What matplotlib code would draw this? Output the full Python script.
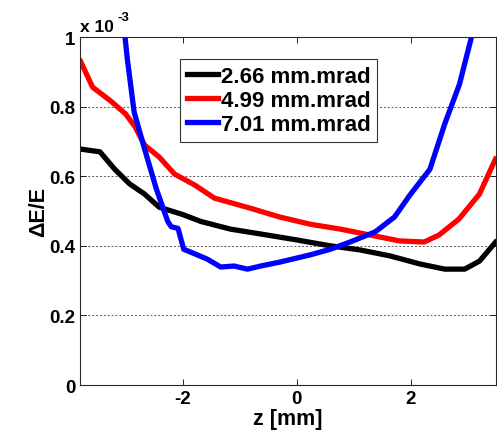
import numpy as np
import matplotlib
matplotlib.use("Agg")
import matplotlib.pyplot as plt

plt.rcParams['font.family'] = ['Liberation Sans', 'DejaVu Sans']
plt.rcParams['font.weight'] = 'bold'

# values, y in units of 1e-3
labels = ["2.66 mm.mrad", "4.99 mm.mrad", "7.01 mm.mrad"]
colors = ["black", "red", "blue"]

z_black = [-3.79, -3.45, -3.19, -2.93, -2.67, -2.41, -2.0, -1.68, -1.16, -0.63, 0.0,
           0.59, 1.12, 1.64, 2.16, 2.6, 2.95, 3.21, 3.49]
e_black = [0.678, 0.67, 0.62, 0.578, 0.549, 0.511, 0.49, 0.47, 0.448, 0.434, 0.417,
           0.40, 0.388, 0.371, 0.348, 0.333, 0.333, 0.356, 0.41]

z_red = [-3.79, -3.58, -3.26, -3.0, -2.83, -2.67, -2.41, -2.14, -1.79, -1.44, -0.83,
         -0.3, 0.24, 0.77, 1.29, 1.81, 2.24, 2.5, 2.85, 3.21, 3.49]
e_red = [0.93, 0.856, 0.816, 0.779, 0.741, 0.69, 0.655, 0.606, 0.575, 0.537, 0.509,
         0.483, 0.462, 0.448, 0.431, 0.414, 0.411, 0.431, 0.477, 0.549, 0.649]

z_blue = [-3.01, -2.97, -2.85, -2.67, -2.46, -2.26, -2.2, -2.08, -1.98, -1.86, -1.57,
          -1.33, -1.1, -0.86, -0.63, -0.3, 0.24, 0.59, 0.94, 1.38, 1.72, 1.99, 2.34,
          2.6, 2.86, 3.07]
e_blue = [1.0, 0.937, 0.784, 0.68, 0.563, 0.47, 0.455, 0.45, 0.39, 0.382, 0.362,
          0.339, 0.342, 0.333, 0.342, 0.353, 0.374, 0.39, 0.411, 0.44, 0.483, 0.546,
          0.62, 0.75, 0.865, 1.0]

xticks = [-2, 0, 2]
yticks = [0, 0.2, 0.4, 0.6, 0.8, 1]
ytick_labels = ["0", "0.2", "0.4", "0.6", "0.8", "1"]

fig = plt.figure(figsize=(4.97, 4.35), dpi=100)
ax = fig.add_axes([0.161, 0.1126, 0.837, 0.8])

for z, e, lab, c in zip([z_black, z_red, z_blue], [e_black, e_red, e_blue], labels, colors):
    ax.plot(z, e, color=c, lw=3.8, label=lab, solid_joinstyle='round')

ax.set_xlim(-3.8, 3.5)
ax.set_ylim(0, 1)
ax.set_xticks(xticks)
ax.set_xticklabels([str(t) for t in xticks])
ax.set_yticks(yticks)
ax.set_yticklabels(ytick_labels)
ax.tick_params(direction='in', top=True, right=True, labelsize=13.5, length=4, width=0.6)
ax.yaxis.grid(True, linestyle=(0, (2, 2)), color='0.35', lw=0.7)
for s in ax.spines.values():
    s.set_linewidth(0.8)
    s.set_color('0.15')

ax.set_xlabel("z [mm]", fontsize=15.5, fontweight='bold', labelpad=1)
ax.set_ylabel("\u0394E/E", fontsize=15.5, fontweight='bold', labelpad=0)

# exponent label, placed like MATLAB does
fig.text(0.161, 0.926, "x 10", fontsize=12.5, fontweight='bold', va='baseline')
fig.text(0.236, 0.952, "-3", fontsize=9.5, fontweight='bold', va='baseline')

leg = ax.legend(loc='upper left', bbox_to_anchor=(0.24, 0.937), borderaxespad=0,
                fancybox=False, framealpha=1, edgecolor='0.2', fontsize=16,
                handlelength=1.4, handletextpad=0.15, borderpad=0.3, labelspacing=0.15)
leg.get_frame().set_linewidth(0.8)

fig.savefig("out.png", dpi=100)
